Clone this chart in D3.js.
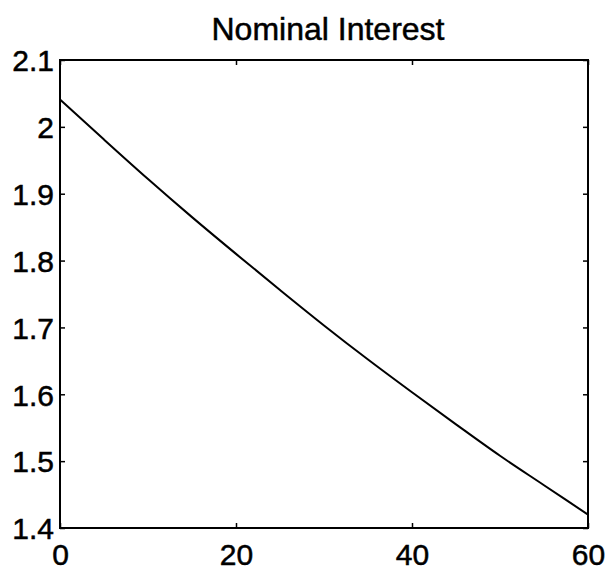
<!DOCTYPE html>
<html>
<head>
    <meta charset="utf-8" />
    <title>Nominal Interest</title>
    <style>
        body { margin: 0; background: #fff; }
        svg text { font-family: "Liberation Sans", Arial, Helvetica, sans-serif; fill: #000; stroke: #000; stroke-width: 0.5px; }
        .box { fill: none; stroke: #000; stroke-width: 2px; }
        .curve { fill: none; stroke: #000; stroke-width: 2px; }
        .tick line { stroke: #000; stroke-width: 1.5px; }
    </style>
</head>
<body>
<svg width="612" height="573"></svg>
<script src="https://d3js.org/d3.v7.min.js"></script>
<script>

    // values
    var title = "Nominal Interest";
    var periods = [0, 5, 10, 15, 20, 25, 30, 35, 40, 45, 50, 55, 60];
    var rate = [2.041, 1.981, 1.922, 1.865, 1.810, 1.756, 1.703, 1.652, 1.603, 1.555, 1.508, 1.464, 1.420];
    var xTicks = [0, 20, 40, 60];
    var yTicks = [1.4, 1.5, 1.6, 1.7, 1.8, 1.9, 2, 2.1];

    var svg = d3.select("svg"),
        margin = {top: 60, right: 24, bottom: 45, left: 60},
        width = +svg.attr("width") - margin.left - margin.right,
        height = +svg.attr("height") - margin.top - margin.bottom;

    var x = d3.scaleLinear().domain([0, 60]).range([0, width]);
    var y = d3.scaleLinear().domain([1.4, 2.1]).range([height, 0]);

    var g = svg.append("g").attr("transform", "translate(" + margin.left + "," + margin.top + ")");

    // inward ticks on all four sides, like a boxed plot
    function axis(a, cls, tr, labels) {
        var ax = g.append("g").attr("class", cls).attr("transform", tr).call(a);
        ax.select(".domain").remove();
        if (!labels) ax.selectAll("text").remove();
        return ax;
    }

    var fmt = d3.format("");

    var bottom = axis(d3.axisBottom(x).tickValues(xTicks).tickSize(-5).tickPadding(16).tickFormat(fmt),
        "x", "translate(0," + height + ")", true);
    bottom.selectAll("text").style("font-size", "30px");

    axis(d3.axisTop(x).tickValues(xTicks).tickSize(-5), "x2", "translate(0,0)", false);

    var left = axis(d3.axisLeft(y).tickValues(yTicks).tickSize(-5).tickPadding(6).tickFormat(fmt),
        "y", "translate(0,0)", true);
    left.selectAll("text").style("font-size", "30px").attr("dy", "0.36em");

    axis(d3.axisRight(y).tickValues(yTicks).tickSize(-5), "y2", "translate(" + width + ",0)", false);

    g.append("rect")
        .attr("class", "box")
        .attr("x", 0).attr("y", 0)
        .attr("width", width).attr("height", height);

    var line = d3.line()
        .x(function(d, i) { return x(periods[i]); })
        .y(function(d) { return y(d); })
        .curve(d3.curveMonotoneX);

    g.append("path")
        .datum(rate)
        .attr("class", "curve")
        .attr("d", line);

    svg.append("text")
        .attr("x", margin.left + width / 2 + 4)
        .attr("y", 40)
        .attr("text-anchor", "middle")
        .style("font-size", "32px")
        .text(title);

</script>
</body>
</html>
